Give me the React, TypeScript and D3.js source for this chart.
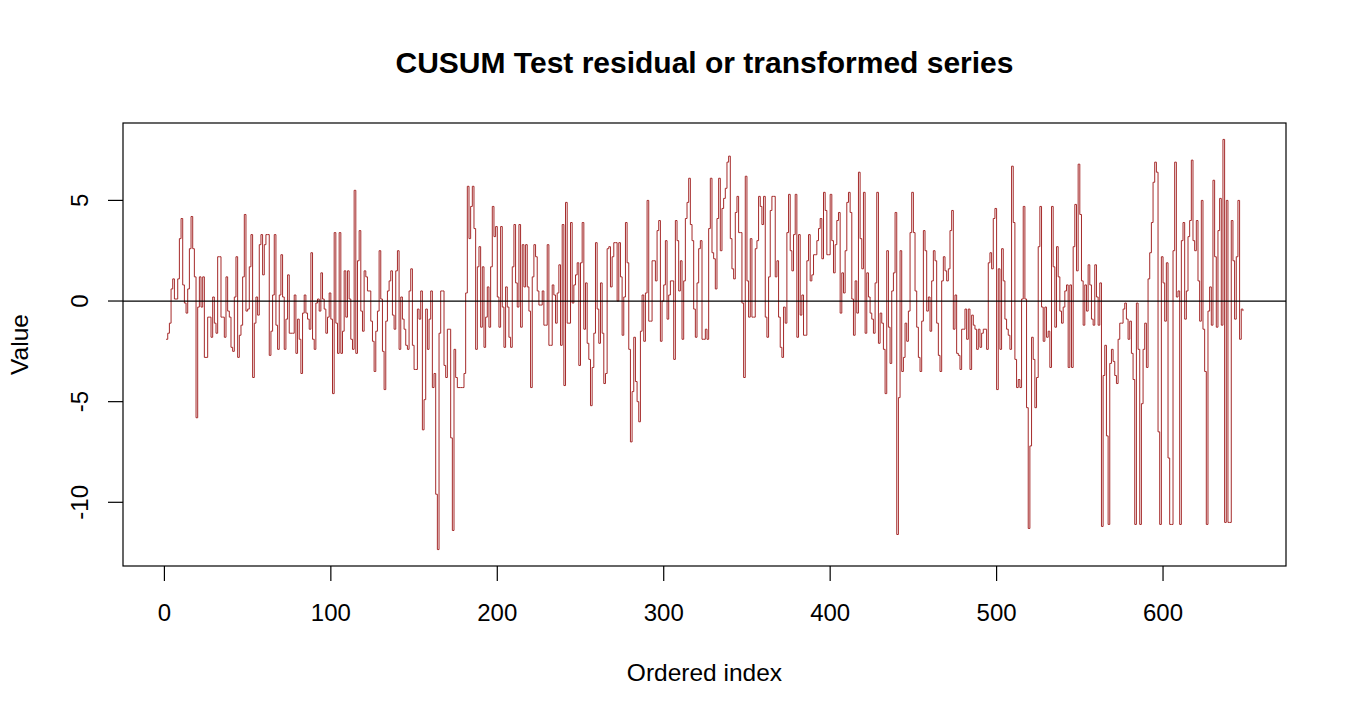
import * as d3 from 'd3'

// residual series, in index order (1..648)
const seriesA = [
  -1.9, -1.6, -1.1, 0.6, 1.1, 0.1, 0.1, 1.1, 3.1, 4.1,
  0.8, -0.1, -0.6, 0.6, 2.6, 4.2, 2.6, 1.2, -5.8, -0.3,
  1.2, -0.3, 1.2, -2.8, -2.8, -0.8, -0.8, -1.8, 0.2, -1.1,
  -1.6, 2.2, 2.2, -0.8, -0.8, -1.8, 1.2, -0.5, -0.8, -2.3,
  -2.5, 0.2, 2.2, -2.8, -1.7, -1.2, 1.2, 4.3, -0.5, -0.4,
  1.7, 3.3, -3.8, -1.1, 0.2, -0.7, 2.8, 3.3, 1.3, 2.8,
  3.3, 3.3, -2.7, -1.5, 0.3, 3.3, -1.2, -2.4, 0.3, 2.3,
  0.2, -2.4, -0.9, 1.3, -1.6, -1.6, -1.6, 0.3, -2.6, -0.9,
  -1.9, -3.6, -0.6, 0.3, -0.6, -0.9, -1.4, 2.4, -1.9, -2.4,
  -0.1, 0.1, -0.5,
]

const seriesB = [
  1.4, 0.1, -0.4, -1.6, -0.8, 0.4, -0.9,
  -4.6, 3.4, -1.1, -2.6, 3.4, -2.6, -1.5, 1.5, -0.8, 1.5,
  0.1, -1.9, -2.4, 5.5, -2.6, 2.0, 3.5, -0.5, -1.5, 1.5,
  1.2, 0.5, 0.5, -1.0, -2.0, -3.5, -1.5, -0.5, 2.5, 0.1,
  -2.5, -4.4, -1.0, 0.5, 1.0, 1.5, -0.7, -1.4, 1.5, 2.5,
  -2.4, 0.2, -0.9, -1.4, -2.2, -2.4, 0.5, 1.6, -2.2, -3.4,
  -3.4, -0.4, -0.9, 0.5, -6.4, -4.9, -0.4, -2.4, -0.9, 0.5,
  -4.3, -3.6, -9.6, -12.35, -1.6, 0.5, 0.5, -3.2, -3.8, -1.4,
  -1.4, -6.8, -11.4, -2.4, -3.8, -4.3, -4.3, -4.3, -4.3, -3.6,
  0.4, 5.7, 3.1, 4.7, 5.7, 3.6,
]

const seriesC = [
  -2.4, 1.7, 2.7, -1.3,
  1.7, -2.3, -0.8, 0.7, -1.3, 1.7, 4.7, 3.2, 3.7, 0.2,
  -1.3, 3.7, -0.3, -2.3, 0.7, -0.3, -1.8, -2.3, 1.7, 3.8,
  0.9, -0.3, 3.8, -1.3, 2.8, 0.7, 2.8, 0.7, -0.5, -4.3,
  1.2, 2.8, 2.2, 0.5, -0.2, -0.2, 0.5, -1.2, -1.2, 2.8,
  -2.2, -2.2, 0.8, 0.3, -1.1, 0.4, 1.8, -2.2, 3.8, -4.2,
  4.9, -1.1, -1.1, 3.9, -0.1, 0.8, 1.3, 1.9, -3.2, 1.9,
  3.9, -1.4, 0.9, -2.1, -2.9, -5.2, -3.3, -1.6, 2.9, -0.4,
  -2.1, 0.9, -1.6, -4.1, -3.6, 2.6, 2.7, 0.7, 2.2, 2.9,
  2.9, 0.0, 2.9, 1.2, -1.7, 0.2, 3.9, 1.9, -2.4, -7.0,
  -4.5, -1.8, -4.0,
]

const seriesD = [
  -5.0, -6.0, -1.5, 0.3, -2.0, 0.4, 5.0,
  -1.0, -1.0, 2.0, 2.0, 1.0, 3.5, 4.0, -2.0, 0.0, 0.8,
  3.0, -0.9, 0.3, 1.0, 1.0, -2.9, 4.0, 3.0, 0.5, 2.0,
  -1.9, 1.0, 4.1, 4.9, 6.1, 3.8, 3.0, -0.4, -1.8, 0.9,
  2.6, 3.0, -1.9, -1.9, -1.4, -1.9, 3.6, 6.1, 2.4, 2.1,
  0.6, 4.1, 6.1, 2.5, 4.6, 5.1, 5.6, 6.9, 7.2, 3.1,
  1.6, 1.1, 4.4, 5.2, 3.4, 3.4, -0.1, -3.8, 6.2, 1.0,
  -0.8, 3.1, -0.8, -0.8, 2.6, 3.0, 5.2, 4.7, 3.8, 5.2,
  -0.8, -1.8, 1.2, 4.5, 5.2, 5.2, 1.2, 2.0, -0.8, -2.3,
  -2.8, -0.3, -1.1, 3.4, 5.3, 2.5, 1.5, 3.3, 5.3,
]

const seriesE = [
  -1.8,
  3.3, -0.7, 0.3, -1.7, -1.7, 2.0, 3.3, 1.0, 1.3, 2.3,
  2.3, 3.0, 3.6, 4.1, 2.1, 5.4, 4.5, 2.3, 2.3, 5.3,
  3.0, 1.4, 2.8, 4.0, 4.4, -0.6, 1.4, 0.4, 2.5, 4.9,
  5.4, 4.4, 0.1, -1.7, 1.0, -0.6, 6.4, 3.1, 1.6, 5.4,
  -1.6, 1.4, 0.2, -0.6, -0.9, -1.6, 0.9, 5.4, -2.1, -0.6,
  -1.1, -2.4, -4.6, 2.5, -1.3, -3.1, 0.5, 1.4, 4.4, -11.6,
  -4.8, 2.5, -3.5, -2.8, -1.1, -2.0, -0.5, 3.4, 5.4, 3.4,
  0.5, -1.3, -2.8, -3.5, -1.0, 3.5, 2.5, -0.5, 0.2, -1.5,
  1.0, 2.5, 2.0, -1.1, -2.7, -3.5, 1.0, 2.2, 1.5, 1.0,
  1.6, 3.5, 4.5, -1.4, 0.3,
]

const seriesF = [
  -2.6, -2.7, -3.4, -1.4, -1.4,
  -0.4, -1.9, -0.4, -3.4, -0.7, -1.2, -1.4, -2.4, -1.4, -2.3,
  -1.6, -1.4, -1.4, -2.4, 1.9, 2.4, 1.6, 4.1, 4.6, -4.4,
  1.6, -2.4, 2.6, 1.0, -0.9, -1.4, -1.7, -2.4, 6.7, 3.9,
  -2.9, -4.3, -3.9, -4.3, 0.1, 4.7, 0.1, -5.3, -11.3, -7.2,
  -1.8, -2.9, -5.3, -3.8, 2.7, 4.7, -0.3, -2.0, -0.3, -1.8,
  -1.5, -3.3, 4.7, 1.7, -1.3, 2.7, 1.2, -0.5, -1.1, -0.3,
  0.5, 0.8, -3.3, 0.8, -3.3, 2.7, 4.8, 1.5, 6.8, 4.3,
  1.0, -1.2, 0.8, -0.5, 1.8, 0.8, -0.9, -1.2, 1.8, 0.2,
  -1.2, 0.9, -11.2, -3.7, -2.2, -6.7, -11.1, -3.1, -2.4, -3.0,
]

const seriesG = [
  -3.7, -4.1, -1.9, -1.1, -1.1, -0.4, -0.1, -0.9, -1.9, -1.0,
  -2.6, -3.9, -11.1, -0.1, -2.4, -11.1, -5.1, -2.4, -1.1, -3.3,
  1.1, 2.4, 3.9, 5.9, 6.9, 6.4, -6.5, -11.1, 2.2, 0.9,
  -1.0, 1.9, -7.8, -11.1, -11.1, 2.5, 6.9, 0.2, 0.5, -11.1,
  3.0, 3.9, -0.9, 0.5, 3.2, 4.0, 7.0, 3.0, 2.5, 4.0,
  1.0, -1.0, 5.0, -1.4, -3.5, -11.1, -0.5, 0.7, -1.2, 6.0,
  2.2, -1.3, 3.5, 5.1, -1.2, 8.03, -11.0, 5.0, -11.0, -11.0,
  4.0, 2.0, -0.9, 2.2, 5.0, -1.9, -0.4, -0.5,
]

const values = [
  ...seriesA, ...seriesB, ...seriesC, ...seriesD,
  ...seriesE, ...seriesF, ...seriesG,
]

const xTicks = [0, 100, 200, 300, 400, 500, 600]
const yTicks = [-10, -5, 0, 5]

const title = 'CUSUM Test residual or transformed series'
const xLabel = 'Ordered index'
const yLabel = 'Value'

export default function App() {
  const width = 1350
  const height = 720
  const left = 123
  const right = 1286
  const top = 123
  const bottom = 566
  const font = '"Liberation Sans", Arial, Helvetica, sans-serif'

  const points = values.map((v, i) => ({ x: i + 1, y: v }))
  const n = points.length

  // R style 4% padding on both axes
  const xPad = (n - 1) * 0.04
  const x = d3.scaleLinear().domain([1 - xPad, n + xPad]).range([left, right])

  const [yMin, yMax] = d3.extent(values) as [number, number]
  const yPad = (yMax - yMin) * 0.04
  const y = d3.scaleLinear().domain([yMin - yPad, yMax + yPad]).range([bottom, top])

  const stepLine = d3.line<{ x: number; y: number }>()
    .x(d => x(d.x))
    .y(d => y(d.y))
    .curve(d3.curveStepAfter)

  const cx = (left + right) / 2
  const cy = (top + bottom) / 2
  const tickLen = 15

  return (
    <svg
      width={width}
      height={height}
      style={{ position: 'absolute', left: 0, top: 0, background: '#fff' }}
      fontFamily={font}
    >
      <rect x={0} y={0} width={width} height={height} fill="#fff" />

      <text x={cx} y={73} textAnchor="middle" fontSize={30} fontWeight="bold" fill="#000">
        {title}
      </text>

      <path d={stepLine(points) ?? ''} fill="none" stroke="#A52A2A" strokeWidth={1} />

      <line x1={left} x2={right} y1={y(0)} y2={y(0)} stroke="#000" strokeWidth={1.2} />

      <rect
        x={left}
        y={top}
        width={right - left}
        height={bottom - top}
        fill="none"
        stroke="#000"
        strokeWidth={1.2}
      />

      {xTicks.map(t => (
        <g key={`x${t}`}>
          <line x1={x(t)} x2={x(t)} y1={bottom} y2={bottom + tickLen} stroke="#000" strokeWidth={1.2} />
          <text x={x(t)} y={620.5} textAnchor="middle" fontSize={24} fill="#000">
            {t}
          </text>
        </g>
      ))}

      {yTicks.map(t => (
        <g key={`y${t}`}>
          <line x1={left - tickLen} x2={left} y1={y(t)} y2={y(t)} stroke="#000" strokeWidth={1.2} />
          <text
            transform={`translate(88,${y(t)}) rotate(-90)`}
            textAnchor="middle"
            fontSize={24}
            fill="#000"
          >
            {t}
          </text>
        </g>
      ))}

      <text x={cx} y={681} textAnchor="middle" fontSize={24.5} fill="#000">
        {xLabel}
      </text>
      <text
        transform={`translate(28,${cy}) rotate(-90)`}
        textAnchor="middle"
        fontSize={24.5}
        fill="#000"
      >
        {yLabel}
      </text>
    </svg>
  )
}
